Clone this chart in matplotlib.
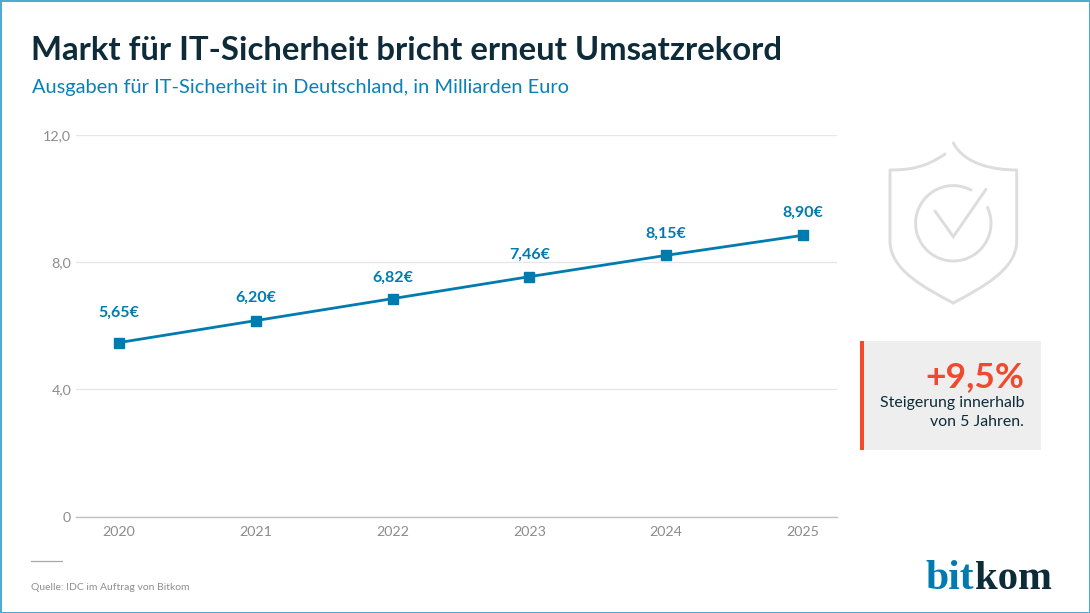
import numpy as np
import matplotlib
matplotlib.use("Agg")
import matplotlib.pyplot as plt
from matplotlib.path import Path
from matplotlib.patches import PathPatch, Rectangle

years = [2020, 2021, 2022, 2023, 2024, 2025]
# line heights as drawn in the picture, the labels say something slightly different
values = [5.47, 6.16, 6.85, 7.54, 8.21, 8.84]
value_labels = ["5,65€", "6,20€", "6,82€", "7,46€", "8,15€", "8,90€"]
label_gaps = [29.5, 22.5, 20.5, 21.5, 22, 22]
y_ticks = [0, 4, 8, 12]
y_tick_labels = ["0", "4,0", "8,0", "12,0"]

W, H = 1090, 613
BLUE = "#007bb0"
DARK = "#0d2b38"
GREY = "#8c8c8c"
RED = "#ee4a2e"
SHIELD = "#dddddd"

plt.rcParams["font.family"] = ["Lato", "DejaVu Sans"]

fig = plt.figure(figsize=(W / 100, H / 100), dpi=100, facecolor="white")

# overlay in pixel coordinates for title, box, icon and logo
bg = fig.add_axes([0, 0, 1, 1])
bg.set_xlim(0, W)
bg.set_ylim(H, 0)
bg.axis("off")

# chart area
left, right, top, bottom = 76, 837, 134.7, 516.7
ax = fig.add_axes([left / W, 1 - bottom / H, (right - left) / W, (bottom - top) / H])
ax.patch.set_alpha(0)
ax.set_xlim(2019.686, 2025.249)
ax.set_ylim(0, 12)
for s in ["top", "right", "left"]:
    ax.spines[s].set_visible(False)
ax.spines["bottom"].set_color("#c0c0c0")
ax.spines["bottom"].set_linewidth(1.0)
ax.set_yticks(y_ticks, y_tick_labels)
ax.set_xticks(years, [str(y) for y in years])
ax.tick_params(axis="both", length=0, labelsize=10.3, labelcolor=GREY)
ax.tick_params(axis="y", pad=3.5)
ax.tick_params(axis="x", pad=6.5)
ax.grid(axis="y", color="#e6e6e6", linewidth=0.9)
ax.set_axisbelow(True)

ax.plot(years, values, color=BLUE, linewidth=2, marker="s", markersize=6.5, clip_on=False)
for x, v, lab, gap in zip(years, values, value_labels, label_gaps):
    ax.annotate(lab, (x, v), xytext=(0, gap), textcoords="offset pixels", ha="center", va="center",
                color=BLUE, fontsize=11.5, fontweight="bold")

# title
bg.text(31, 60, "Markt für IT-Sicherheit bricht erneut Umsatzrekord", color=DARK, fontsize=23.7,
        fontweight="bold", va="baseline", ha="left")
bg.text(32, 92.5, "Ausgaben für IT-Sicherheit in Deutschland, in Milliarden Euro", color="#0a80b8",
        fontsize=14.4, va="baseline", ha="left")

# shield icon
left_side = Path([(945, 154), (925, 168), (908, 170), (890, 170), (890, 241), (890, 270), (925, 288), (953.3, 303)],
                 [Path.MOVETO, Path.CURVE4, Path.CURVE4, Path.CURVE4, Path.LINETO, Path.CURVE4, Path.CURVE4, Path.CURVE4])
right_side = Path([(953.3, 143), (965, 165), (995, 170), (1016.7, 170), (1016.7, 241), (1016.7, 270), (981, 288), (953.3, 303)],
                  [Path.MOVETO, Path.CURVE4, Path.CURVE4, Path.CURVE4, Path.LINETO, Path.CURVE4, Path.CURVE4, Path.CURVE4])
for p in [left_side, right_side]:
    bg.add_patch(PathPatch(p, fill=False, edgecolor=SHIELD, linewidth=2.1, capstyle="round", joinstyle="round"))
theta = np.radians(np.linspace(62, 385, 200))
bg.plot(953.3 + 37.7 * np.cos(theta), 223.3 - 37.7 * np.sin(theta), color=SHIELD, linewidth=2.1, solid_capstyle="round")
bg.plot([935, 953.3, 986], [211, 236.7, 189.3], color=SHIELD, linewidth=2.1, solid_capstyle="round", solid_joinstyle="miter")

# callout box
bg.add_patch(Rectangle((860, 341), 181, 109, facecolor="#eeeeee", edgecolor="none"))
bg.add_patch(Rectangle((860, 341), 3.5, 109, facecolor="#f4482c", edgecolor="none"))
bg.text(1024, 387, "+9,5%", color=RED, fontsize=25.5, fontweight="bold", ha="right", va="baseline")
bg.text(1024, 407, "Steigerung innerhalb", color=DARK, fontsize=11.4, ha="right", va="baseline")
bg.text(1024, 426, "von 5 Jahren.", color=DARK, fontsize=11.4, ha="right", va="baseline")

# source
bg.plot([31, 62], [561, 561], color="#a8a8a8", linewidth=0.9)
bg.text(31, 590.5, "Quelle: IDC im Auftrag von Bitkom", color="#8f8f8f", fontsize=7.45, va="baseline", ha="left")

# logo
bg.text(925, 589, "bit", color=BLUE, fontsize=30, fontweight="bold", family="Liberation Serif", ha="left", va="baseline")
bg.text(975.5, 589, "kom", color=DARK, fontsize=29.3, fontweight="bold", family="Liberation Serif", ha="left", va="baseline")

# outer frame
bg.add_patch(Rectangle((0.5, 0.5), W - 1, H - 1, fill=False, edgecolor="#4aa8d2", linewidth=1.4))

fig.savefig("out.png", dpi=100)
